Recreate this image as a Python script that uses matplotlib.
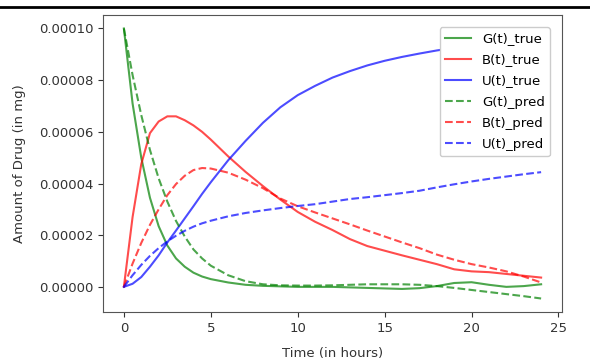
import numpy as np
import matplotlib
matplotlib.use("Agg")
import matplotlib.pyplot as plt
from matplotlib.lines import Line2D
from matplotlib.ticker import FormatStrFormatter

# time points (hours)
t = [0, 0.5, 1, 1.5, 2, 2.5, 3, 3.5, 4, 4.5, 5, 6, 7, 8, 9, 10, 11, 12,
     13, 14, 15, 16, 17, 18, 19, 20, 21, 22, 23, 24]

# amounts, in units of 1e-5 mg
g_true = [10.0, 7.1, 5.0, 3.45, 2.35, 1.6, 1.1, 0.78, 0.55, 0.4, 0.3, 0.17,
          0.08, 0.04, 0.02, 0.0, 0.0, 0.0, -0.02, -0.04, -0.06, -0.08, -0.05,
          0.03, 0.15, 0.18, 0.08, 0.0, 0.03, 0.1]
b_true = [0.0, 2.7, 4.75, 5.95, 6.4, 6.6, 6.6, 6.45, 6.25, 6.0, 5.7, 5.05,
          4.45, 3.9, 3.38, 2.9, 2.52, 2.2, 1.85, 1.58, 1.4, 1.22, 1.05, 0.88,
          0.68, 0.6, 0.57, 0.5, 0.43, 0.36]
u_true = [0.0, 0.12, 0.38, 0.78, 1.22, 1.72, 2.18, 2.65, 3.12, 3.6, 4.05,
          4.9, 5.65, 6.35, 6.95, 7.42, 7.78, 8.1, 8.35, 8.57, 8.75, 8.9, 9.03,
          9.15, 9.25, 9.34, 9.42, 9.49, 9.55, 9.6]
g_pred = [10.0, 8.2, 6.65, 5.3, 4.2, 3.3, 2.55, 1.95, 1.45, 1.1, 0.82, 0.45,
          0.22, 0.1, 0.06, 0.05, 0.05, 0.06, 0.08, 0.1, 0.1, 0.1, 0.08, 0.03,
          -0.04, -0.12, -0.2, -0.28, -0.36, -0.45]
b_pred = [0.0, 0.9, 1.7, 2.4, 3.0, 3.55, 3.98, 4.3, 4.52, 4.6, 4.58, 4.42,
          4.15, 3.82, 3.42, 3.12, 2.88, 2.65, 2.42, 2.18, 1.95, 1.72, 1.5,
          1.25, 1.05, 0.88, 0.75, 0.6, 0.4, 0.17]
u_pred = [0.0, 0.45, 0.85, 1.2, 1.5, 1.76, 1.98, 2.17, 2.33, 2.46, 2.56, 2.73,
          2.86, 2.96, 3.05, 3.13, 3.2, 3.3, 3.4, 3.47, 3.55, 3.63, 3.72, 3.85,
          3.97, 4.08, 4.18, 4.27, 4.36, 4.44]

scale = 1e-5

fig = plt.figure(figsize=(5.9, 3.63), dpi=100)
ax = fig.add_axes([0.1746, 0.1405, 0.7779, 0.8182])

ax.plot(t, np.array(g_true) * scale, color="g", alpha=0.7, label="G(t)_true")
ax.plot(t, np.array(b_true) * scale, color="r", alpha=0.7, label="B(t)_true")
ax.plot(t, np.array(u_true) * scale, color="b", alpha=0.7, label="U(t)_true")
ax.plot(t, np.array(g_pred) * scale, "--", color="g", alpha=0.7, label="G(t)_pred")
ax.plot(t, np.array(b_pred) * scale, "--", color="r", alpha=0.7, label="B(t)_pred")
ax.plot(t, np.array(u_pred) * scale, "--", color="b", alpha=0.7, label="U(t)_pred")

ax.set_xticks([0, 5, 10, 15, 20, 25])
ax.set_yticks([0, 2e-5, 4e-5, 6e-5, 8e-5, 1e-4])
ax.yaxis.set_major_formatter(FormatStrFormatter("%.5f"))
ax.tick_params(labelsize=9.5, colors="#333333")
for sp in ax.spines.values():
    sp.set_color("#555555")
ax.set_xlabel("Time (in hours)", fontsize=9.5, labelpad=9, color="#333333")
ax.set_ylabel("Amount of Drug (in mg)", fontsize=9.5, labelpad=9, color="#333333")
ax.legend(loc="upper right", fontsize=9.5, labelspacing=0.62,
          borderaxespad=0.9, framealpha=1.0)

# dark rule at the top of the screenshot
fig.add_artist(Line2D([0, 1], [0.982, 0.982], transform=fig.transFigure,
                      color="k", lw=2))

fig.savefig("out.png", dpi=100)
